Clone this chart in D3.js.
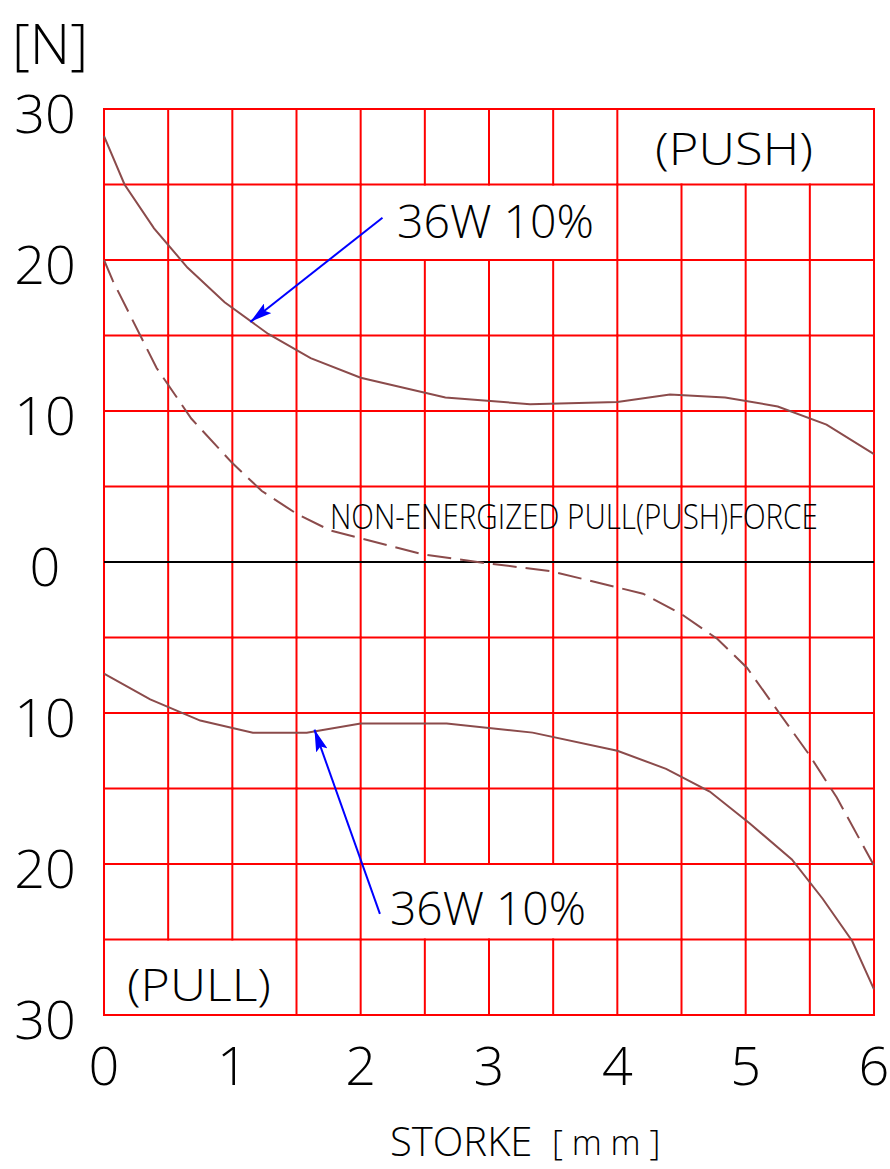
<!DOCTYPE html>
<html>
<head>
<meta charset="utf-8">
<script src="https://cdn.jsdelivr.net/npm/d3@7"></script>
<style>
  html, body { margin: 0; padding: 0; background: #fff; }
  svg { display: block; }
  text { font-family: "Open Sans", "Liberation Sans", "DejaVu Sans", sans-serif; font-weight: 300; fill: #000; }
</style>
</head>
<body>
<svg id="chart" width="890" height="1169"></svg>
<script>
// ---- data ----
const xTicks = [0, 1, 2, 3, 4, 5, 6];
const yTicks = [30, 20, 10, 0, -10, -20, -30];
const yTickLabels = ["30", "20", "10", "0", "10", "20", "30"];

// energized push force (36W 10%)
const pushStroke = [0, 0.16, 0.39, 0.65, 0.94, 1.28, 1.61, 2.0, 2.66, 3.32, 4.0, 4.41, 4.84, 5.25, 5.63, 6.0];
const pushForce  = [28.2, 25.0, 22.1, 19.5, 17.2, 15.1, 13.5, 12.2, 10.9, 10.45, 10.6, 11.1, 10.9, 10.3, 9.1, 7.15];

// non-energized pull(push) force
const freeStroke = [0, 0.07, 0.41, 0.68, 1.0, 1.23, 1.5, 1.76, 2.49, 2.95, 3.48, 4.2, 4.49, 4.78, 5.01, 5.27, 5.49, 5.71, 6.0];
const freeForce  = [20.0, 18.6, 12.85, 9.5, 6.55, 4.7, 3.2, 2.1, 0.5, -0.05, -0.6, -2.1, -3.4, -5.1, -7.0, -10.1, -12.7, -15.6, -20.1];

// energized pull force (36W 10%)
const pullStroke = [0, 0.36, 0.75, 1.16, 1.58, 2.0, 2.67, 3.34, 4.0, 4.38, 4.72, 5.03, 5.36, 5.6, 5.83, 6.0];
const pullForce  = [-7.4, -9.1, -10.5, -11.3, -11.3, -10.7, -10.7, -11.3, -12.5, -13.7, -15.2, -17.3, -19.7, -22.3, -25.1, -28.3];

// label boxes inside the grid (cells without vertical grid lines)
const boxX0 = [4, 2, 2, 0];
const boxX1 = [6, 4, 4, 1.5];
const boxY0 = [25, 20, -25, -30];
const boxY1 = [30, 25, -20, -25];

// ---- scales ----
const svg = d3.select("#chart");
const x = d3.scaleLinear().domain([0, 6]).range([104, 874]);
const y = d3.scaleLinear().domain([30, -30]).range([109, 1015]);

const RED = "#ff0000";
const CURVE = "#8b4b4b";
const BLUE = "#0000ff";

const gGrid = svg.append("g");

// horizontal grid lines every 5 N (except zero, drawn black)
const hVals = d3.range(-30, 30.001, 5);
gGrid.selectAll("line.h").data(hVals.filter(v => v !== 0)).join("line")
  .attr("x1", x(0)).attr("x2", x(6))
  .attr("y1", d => y(d)).attr("y2", d => y(d))
  .attr("stroke", RED).attr("stroke-width", 2);

// vertical grid lines every 0.5 mm, per 5 N row, skipping label boxes
const vVals = d3.range(0, 6.001, 0.5);
const rows = d3.range(-30, 30, 5);
const segs = [];
vVals.forEach(xv => {
  rows.forEach(r => {
    let skip = false;
    for (let i = 0; i < boxX0.length; i++) {
      if (xv > boxX0[i] + 1e-6 && xv < boxX1[i] - 1e-6 && r >= boxY0[i] - 1e-6 && r + 5 <= boxY1[i] + 1e-6) skip = true;
    }
    if (!skip) segs.push({ xv, r });
  });
});
gGrid.selectAll("line.v").data(segs).join("line")
  .attr("x1", d => x(d.xv)).attr("x2", d => x(d.xv))
  .attr("y1", d => y(d.r)).attr("y2", d => y(d.r + 5))
  .attr("stroke", RED).attr("stroke-width", 2).attr("stroke-linecap", "square");

// zero line
svg.append("line")
  .attr("x1", x(0)).attr("x2", x(6)).attr("y1", y(0)).attr("y2", y(0))
  .attr("stroke", "#000").attr("stroke-width", 2);

// ---- curves ----
const line = d3.line().x(d => x(d[0])).y(d => y(d[1]));
svg.append("path").datum(d3.zip(pushStroke, pushForce))
  .attr("d", line).attr("fill", "none").attr("stroke", CURVE).attr("stroke-width", 2);
svg.append("path").datum(d3.zip(freeStroke, freeForce))
  .attr("d", line).attr("fill", "none").attr("stroke", CURVE).attr("stroke-width", 2)
  .attr("stroke-dasharray", "24,9");
svg.append("path").datum(d3.zip(pullStroke, pullForce))
  .attr("d", line).attr("fill", "none").attr("stroke", CURVE).attr("stroke-width", 2);

// ---- arrows ----
const defs = svg.append("defs");
defs.append("marker").attr("id", "arr")
  .attr("viewBox", "0 0 22 12").attr("refX", 22).attr("refY", 6)
  .attr("markerWidth", 22).attr("markerHeight", 12)
  .attr("markerUnits", "userSpaceOnUse").attr("orient", "auto")
  .append("path").attr("d", "M0,0 L22,6 L0,12 L4,6 Z").attr("fill", BLUE);

function arrow(x1, y1, x2, y2) {
  svg.append("line")
    .attr("x1", x(x1)).attr("y1", y(y1)).attr("x2", x(x2)).attr("y2", y(y2))
    .attr("stroke", BLUE).attr("stroke-width", 2).attr("marker-end", "url(#arr)");
}
arrow(2.17, 22.8, 1.14, 15.9);
arrow(2.15, -23.3, 1.64, -11.1);

// ---- text ----
// place text starting at xv and optionally squeeze/stretch it horizontally to the given width
function label(txt, xv, yv, size, width, baseline) {
  const t = svg.append("text")
    .attr("x", xv).attr("y", yv)
    .attr("font-size", size)
    .attr("dominant-baseline", baseline || "central")
    .text(txt);
  const w = t.node().getComputedTextLength();
  if (width && w > 0) {
    const s = width / w;
    t.attr("transform", `translate(${xv},0) scale(${s},1) translate(${-xv},0)`);
  }
  return t;
}

// y axis tick labels
const gy = svg.append("g");
gy.selectAll("text").data(yTicks).join("text")
  .attr("x", 45).attr("y", d => y(d) + 3)
  .attr("text-anchor", "middle").attr("dominant-baseline", "central")
  .attr("font-size", 54)
  .text((d, i) => yTickLabels[i]);

// x axis tick labels
const gx = svg.append("g");
gx.selectAll("text").data(xTicks).join("text")
  .attr("x", d => x(d)).attr("y", 1064)
  .attr("text-anchor", "middle").attr("dominant-baseline", "central")
  .attr("font-size", 54)
  .text(d => String(d));

label("[N]", 12, 42, 56);
label("STORKE", 390, 1156, 40, null, "alphabetic");
label("[ m m ]", 552, 1155, 34, null, "alphabetic");
label("(PUSH)", 655, 148, 44, 158);
label("36W 10%", 397, 221, 46, 197);
label("36W 10%", 390, 908, 46, 196);
label("(PULL)", 127, 984, 44, 144);
label("NON-ENERGIZED PULL(PUSH)FORCE", 330, 516, 34, 488);
</script>
</body>
</html>
